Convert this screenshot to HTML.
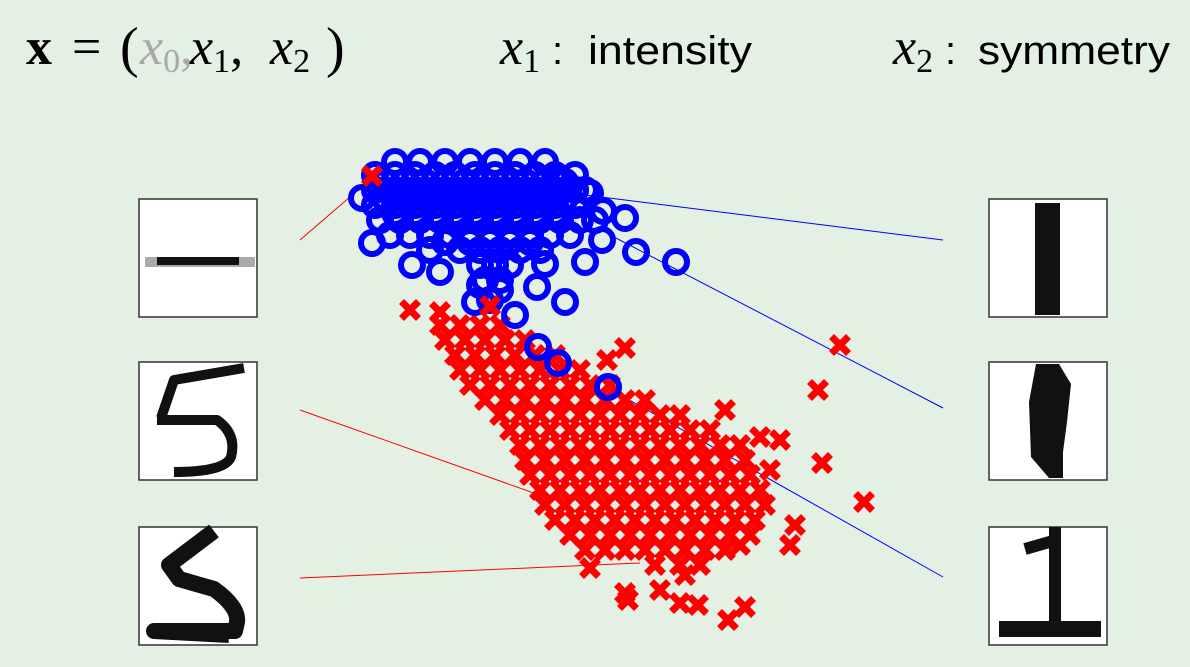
<!DOCTYPE html>
<html><head><meta charset="utf-8"><style>
html,body{margin:0;padding:0;background:#e4f0e4;}
svg{display:block;}
</style></head><body>
<svg id="chart" width="1190" height="667" viewBox="0 0 1190 667" xmlns="http://www.w3.org/2000/svg">
<rect width="1190" height="667" fill="#e4f0e4"/>
<g font-family="Liberation Serif, serif" font-size="52">
  <text x="26" y="64" font-weight="bold">x</text>
  <text x="72" y="64">=</text>
  <text x="120" y="66" font-size="56">(</text>
  <text x="140" y="64" font-style="italic" fill="#a8a8a8">x<tspan font-size="34" dy="8" font-style="normal">0</tspan><tspan dy="-8" font-style="normal">,</tspan></text>
  <text x="190" y="64" font-style="italic">x<tspan font-size="34" dy="8" font-style="normal">1</tspan><tspan dy="-8" font-style="normal">,</tspan></text>
  <text x="270" y="64" font-style="italic">x<tspan font-size="34" dy="8" font-style="normal">2</tspan></text>
  <text x="326" y="66" font-size="56">)</text>
</g>
<g>
  <text x="500" y="64" font-family="Liberation Serif, serif" font-style="italic" font-size="52">x<tspan font-size="34" dy="8" font-style="normal">1</tspan></text>
  <text x="552" y="64" font-family="Liberation Sans, sans-serif" font-size="40">:</text>
  <text x="588" y="64" font-family="Liberation Sans, sans-serif" font-size="40" textLength="164" lengthAdjust="spacingAndGlyphs">intensity</text>
</g>
<g>
  <text x="893" y="64" font-family="Liberation Serif, serif" font-style="italic" font-size="52">x<tspan font-size="34" dy="8" font-style="normal">2</tspan></text>
  <text x="945" y="64" font-family="Liberation Sans, sans-serif" font-size="40">:</text>
  <text x="978" y="64" font-family="Liberation Sans, sans-serif" font-size="40" textLength="192" lengthAdjust="spacingAndGlyphs">symmetry</text>
</g>

<g stroke-width="1">
  <line x1="300" y1="240" x2="372" y2="178" stroke="#ff0000"/>
  <line x1="300" y1="410" x2="545" y2="497" stroke="#ff0000"/>
  <line x1="300" y1="578" x2="640" y2="563" stroke="#ff0000"/>
  <line x1="585" y1="195" x2="943" y2="240" stroke="#0000ff"/>
  <line x1="612" y1="236" x2="943" y2="408" stroke="#0000ff"/>
  <line x1="608" y1="388" x2="943" y2="577" stroke="#0000ff"/>
</g>

<g id="marks"></g>

<g transform="translate(139,199)">
  <rect width="118" height="118" fill="#fff" stroke="#333" stroke-width="1.5"/>
  <rect x="6" y="58" width="110" height="10" fill="#aaa"/>
  <rect x="18" y="58" width="82" height="8" fill="#111"/>
</g>
<g transform="translate(139,362)">
  <rect width="118" height="118" fill="#fff" stroke="#333" stroke-width="1.5"/>
  <path d="M105 6 L35 18 L22 56 M18 58 L78 58 Q98 72 92 95 Q86 110 35 110" fill="none" stroke="#111" stroke-width="10" stroke-linejoin="round"/>
</g>
<g transform="translate(139,527)">
  <rect width="118" height="118" fill="#fff" stroke="#333" stroke-width="1.5"/>
  <path d="M75 4 L30 38 L40 52 L75 62 Q100 80 98 95 L96 104 L15 104 L90 108" fill="none" stroke="#111" stroke-width="16" stroke-linejoin="round"/>
</g>
<g transform="translate(989,199)">
  <rect width="118" height="118" fill="#fff" stroke="#333" stroke-width="1.5"/>
  <rect x="46" y="4" width="25" height="112" fill="#111"/>
</g>
<g transform="translate(989,362)">
  <rect width="118" height="118" fill="#fff" stroke="#333" stroke-width="1.5"/>
  <polygon points="47,2 70,2 82,22 78,60 74,90 74,116 60,116 42,95 40,40" fill="#111"/>
</g>
<g transform="translate(989,527)">
  <rect width="118" height="118" fill="#fff" stroke="#333" stroke-width="1.5"/>
  <rect x="60" y="0" width="12" height="98" fill="#111"/>
  <path d="M36 22 L64 14" stroke="#111" stroke-width="12"/>
  <rect x="10" y="94" width="102" height="16" fill="#111"/>
</g>
</svg>
<script>
// intensity values (x) and symmetry values (y) for digit 1 (blue circles)
const blueI = [.095,.120,.145,.170,.195,.220,.245,
.075,.095,.115,.135,.155,.175,.195,.215,.235,.255,.275,
.075,.095,.115,.135,.155,.175,.195,.215,.235,.255,.275,.285,
.075,.095,.115,.135,.155,.175,.195,.215,.235,.255,.275,
.080,.100,.120,.140,.160,.180,.200,.220,.240,.260,.280,.295,
.090,.110,.130,.150,.170,.190,.210,.230,.250,.270,
.130,.160,.180,.200,.220,.240,
.180,.195,.210,.185,.200,
.085,.105,.125,.145,.165,.185,.205,.225,.245,.265,
.085,.105,.125,.145,.165,.185,.205,.225,.245,.265,
.095,.115,.135,.155,.175,.195,.215,.235,.255,
.145,.170,.190,.210,.230,
.062,.072,.112,.140,.175,.190,.215,.237,.265,.245,.285,.302,.325,.336,.376,.290,.303,.238,.258,.308,.180,.200,.260,.275];
const blueS = [.498,.498,.498,.498,.498,.498,.498,
.485,.485,.485,.485,.485,.485,.485,.485,.485,.485,.485,
.470,.470,.470,.470,.470,.470,.470,.470,.470,.470,.470,.470,
.455,.455,.455,.455,.455,.455,.455,.455,.455,.455,.455,
.440,.440,.440,.440,.440,.440,.440,.440,.440,.440,.440,.440,
.425,.425,.425,.425,.425,.425,.425,.425,.425,.425,
.410,.410,.410,.410,.410,.410,
.395,.395,.395,.380,.380,
.478,.478,.478,.478,.478,.478,.478,.478,.478,.478,
.462,.462,.462,.462,.462,.462,.462,.462,.462,.462,
.447,.447,.447,.447,.447,.447,.447,.447,.447,
.418,.418,.418,.418,.418,
.462,.417,.395,.388,.358,.360,.345,.373,.358,.396,.398,.420,.442,.408,.398,.467,.449,.313,.297,.273,.375,.370,.480,.470];
// intensity / symmetry for digit 5 (red crosses)
const redI = [.140,.160,.180,.200,
.145,.165,.185,.205,.225,
.155,.175,.195,.215,.235,.255,
.160,.180,.200,.220,.240,.260,.280,
.170,.190,.210,.230,.250,.270,.290,.310,
.185,.205,.225,.245,.265,.285,.305,.325,.345,
.200,.220,.240,.260,.280,.300,.320,.340,.360,.380,
.210,.230,.250,.270,.290,.310,.330,.350,.370,.390,.410,
.220,.240,.260,.280,.300,.320,.340,.360,.380,.400,.420,.440,
.225,.245,.265,.285,.305,.325,.345,.365,.385,.405,.425,.445,
.230,.250,.270,.290,.310,.330,.350,.370,.390,.410,.430,.450,
.240,.260,.280,.300,.320,.340,.360,.380,.400,.420,.440,.460,
.245,.265,.285,.305,.325,.345,.365,.385,.405,.425,.445,.465,
.255,.275,.295,.315,.335,.355,.375,.395,.415,.435,.455,
.270,.290,.310,.330,.350,.370,.390,.410,.430,.450,
.285,.305,.325,.345,.365,.385,.405,.425,
.355,.380,.400,
.072,.110,.140,.190,.325,.307,.540,.518,.522,.564,.480,.460,.425,.470,.490,.495,.440,.290,.325,.328,.380,.398,.428,.445,.385,.360,.240];
const redS = [.335,.335,.335,.335,
.320,.320,.320,.320,.320,
.305,.305,.305,.305,.305,.305,
.290,.290,.290,.290,.290,.290,.290,
.275,.275,.275,.275,.275,.275,.275,.275,
.260,.260,.260,.260,.260,.260,.260,.260,.260,
.245,.245,.245,.245,.245,.245,.245,.245,.245,.245,
.230,.230,.230,.230,.230,.230,.230,.230,.230,.230,.230,
.215,.215,.215,.215,.215,.215,.215,.215,.215,.215,.215,.215,
.200,.200,.200,.200,.200,.200,.200,.200,.200,.200,.200,.200,
.185,.185,.185,.185,.185,.185,.185,.185,.185,.185,.185,.185,
.170,.170,.170,.170,.170,.170,.170,.170,.170,.170,.170,.170,
.155,.155,.155,.155,.155,.155,.155,.155,.155,.155,.155,.155,
.140,.140,.140,.140,.140,.140,.140,.140,.140,.140,.140,
.125,.125,.125,.125,.125,.125,.125,.125,.125,.125,
.110,.110,.110,.110,.110,.110,.110,.110,
.095,.095,.095,
.484,.350,.348,.354,.312,.300,.315,.270,.197,.158,.220,.223,.250,.190,.115,.135,.115,.092,.067,.060,.057,.055,.040,.053,.085,.070,.290];

function xScale(v){ return 300 + v*1000; }
function yScale(v){ return 660 - v*1000; }

const NS = 'http://www.w3.org/2000/svg';
const g = document.getElementById('marks');
const redG = document.createElementNS(NS,'g');


g.appendChild(redG);
const blueG = document.createElementNS(NS,'g');


g.appendChild(blueG);

function cross(parent, i, s, name){
  const x = xScale(i), y = yScale(s), h = 8.5;
  const p = document.createElementNS(NS,'path');
  p.setAttribute('d', `M${x-h} ${y-h}L${x+h} ${y+h}M${x-h} ${y+h}L${x+h} ${y-h}`);
  p.setAttribute('stroke','#ff0000');
  p.setAttribute('stroke-width','7');
  
  
  parent.appendChild(p);
}
for (let k=0;k<blueI.length;k++){
  const c = document.createElementNS(NS,'circle');
  c.setAttribute('cx', xScale(blueI[k]));
  c.setAttribute('cy', yScale(blueS[k]));
  c.setAttribute('r', 11);
  c.setAttribute('fill','none');
  c.setAttribute('stroke','#0000ff');
  c.setAttribute('stroke-width','6');
  
  
  blueG.appendChild(c);
}
for (let k=0;k<redI.length;k++){
  cross(redG, redI[k], redS[k], 'digit5-point');
}
[0,3].forEach(function(j){
  const idx = redI.length - 27 + j;
  cross(g, redI[idx], redS[idx], 'digit5-point-overlay');
});
</script>
</body></html>
